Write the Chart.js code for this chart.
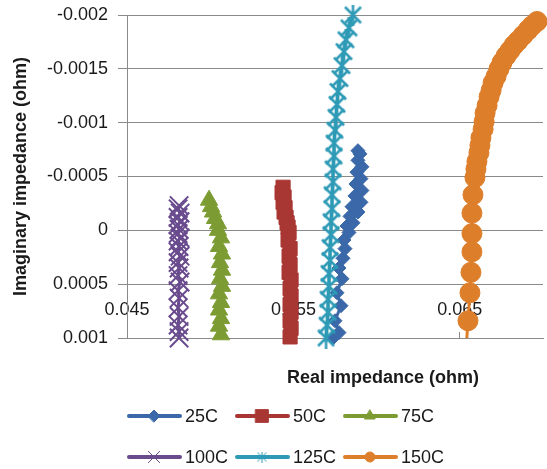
<!DOCTYPE html>
<html>
<head>
<meta charset="utf-8">
<script src="https://cdn.jsdelivr.net/npm/chart.js@4.4.1/dist/chart.umd.min.js"></script>
<style>
    html, body { margin: 0; padding: 0; background: #fff; }
</style>
</head>
<body>
<canvas id="nyquistChart" width="547" height="469"></canvas>
<script>
// Nyquist plot: real vs imaginary impedance at six temperatures

const seriesNames = ['25C', '50C', '75C', '100C', '125C', '150C'];
const xTicks = [0.045, 0.055, 0.065];
const yTicks = [-0.002, -0.0015, -0.001, -0.0005, 0, 0.0005, 0.001];

const re25 = [0.05738, 0.05774, 0.05750, 0.05786, 0.05762, 0.05792, 0.05774, 0.05798, 0.05810, 0.05804, 0.05834, 0.05822, 0.05858,
    0.05840, 0.05888, 0.05852, 0.05906, 0.05870, 0.05912, 0.05876, 0.05906, 0.05882, 0.05912, 0.05888, 0.05900, 0.05888];
const im25 = [0.00100, 0.00095, 0.00084, 0.00070, 0.00058, 0.00045, 0.00035, 0.00026, 0.00017, 0.00009, 0.00002, -0.00004, -0.00007,
    -0.00013, -0.00017, -0.00022, -0.00026, -0.00032, -0.00037, -0.00043, -0.00048, -0.00054, -0.00059, -0.00065, -0.00071, -0.00074];

const re50 = [0.05438, 0.05432, 0.05444, 0.05438, 0.05450, 0.05444, 0.05456, 0.05462, 0.05468, 0.05474, 0.05468, 0.05480,
    0.05474, 0.05480, 0.05474, 0.05486, 0.05480, 0.05486, 0.05480, 0.05486, 0.05480, 0.05486, 0.05480];
const im50 = [-0.00040, -0.00035, -0.00031, -0.00026, -0.00021, -0.00017, -0.00012, -0.00007, -0.00003, 0.00002, 0.00009, 0.00017,
    0.00024, 0.00032, 0.00039, 0.00046, 0.00054, 0.00061, 0.00069, 0.00076, 0.00084, 0.00091, 0.00099];

const re75 = [0.04993, 0.05005, 0.05017, 0.05029, 0.05047, 0.05047, 0.05065, 0.05053, 0.05071, 0.05059, 0.05071, 0.05059,
    0.05071, 0.05053, 0.05065, 0.05053, 0.05065, 0.05053, 0.05065];
const im75 = [-0.00028, -0.00022, -0.00017, -0.00011, -0.00006, 0.00000, 0.00007, 0.00015, 0.00022, 0.00030, 0.00037, 0.00045,
    0.00052, 0.00059, 0.00067, 0.00074, 0.00082, 0.00089, 0.00097];

const re100 = [0.04813, 0.04807, 0.04819, 0.04807, 0.04819, 0.04807, 0.04813, 0.04807, 0.04819, 0.04807, 0.04813, 0.04807,
    0.04819, 0.04807, 0.04813, 0.04807, 0.04819, 0.04807, 0.04813, 0.04807, 0.04813, 0.04807, 0.04813, 0.04813];
const im100 = [-0.00023, -0.00020, -0.00016, -0.00012, -0.00008, -0.00005, -0.00001, 0.00003, 0.00007, 0.00010, 0.00015, 0.00020,
    0.00024, 0.00030, 0.00035, 0.00042, 0.00048, 0.00056, 0.00063, 0.00072, 0.00080, 0.00088, 0.00094, 0.00100];

const re125 = [0.05696, 0.05702, 0.05708, 0.05708, 0.05714, 0.05714, 0.05720, 0.05720, 0.05726, 0.05726, 0.05732, 0.05732, 0.05738,
    0.05738, 0.05744, 0.05744, 0.05750, 0.05756, 0.05762, 0.05768, 0.05780, 0.05792, 0.05804, 0.05816, 0.05834, 0.05858];
const im125 = [0.00100, 0.00088, 0.00076, 0.00064, 0.00052, 0.00040, 0.00028, 0.00016, 0.00004, -0.00008, -0.00020, -0.00033, -0.00045,
    -0.00057, -0.00069, -0.00081, -0.00093, -0.00105, -0.00117, -0.00129, -0.00141, -0.00153, -0.00166, -0.00177, -0.00188, -0.00200];

const re150 = [0.06537, 0.06549, 0.06561, 0.06567, 0.06573, 0.06573, 0.06573, 0.06579, 0.06591, 0.06597, 0.06603, 0.06615, 0.06621,
    0.06627, 0.06640, 0.06646, 0.06652, 0.06664, 0.06676, 0.06688, 0.06700, 0.06718, 0.06736, 0.06754, 0.06778, 0.06802, 0.06826,
    0.06850, 0.06880, 0.06910, 0.06934, 0.06964];
const im150 = [0.00113, 0.00084, 0.00058, 0.00039, 0.00020, 0.00003, -0.00016, -0.00033, -0.00049, -0.00057, -0.00064, -0.00072, -0.00079,
    -0.00086, -0.00094, -0.00101, -0.00109, -0.00116, -0.00124, -0.00130, -0.00137, -0.00143, -0.00150, -0.00156, -0.00162, -0.00167,
    -0.00172, -0.00176, -0.00181, -0.00186, -0.00190, -0.00194];

const seriesRe = [re25, re50, re75, re100, re125, re150];
const seriesIm = [im25, im50, im75, im100, im125, im150];
const seriesColors = ['#3A68A8', '#A83733', '#7C9C33', '#6A4C8E', '#2E9AB6', '#DD7E2B'];

const FONT = '"Liberation Sans", Arial, sans-serif';
const TEXT = '#1a1a1a';
const GRID = '#8a8a8a';

// asterisk marker (x plus vertical bar), like the spreadsheet's star marker
function makeStar(size, color, width) {
    const c = document.createElement('canvas');
    c.width = size; c.height = size;
    const g = c.getContext('2d');
    const p = width;
    g.strokeStyle = color;
    g.lineWidth = width;
    g.beginPath();
    g.moveTo(p, p); g.lineTo(size - p, size - p);
    g.moveTo(size - p, p); g.lineTo(p, size - p);
    g.moveTo(size / 2, 0); g.lineTo(size / 2, size);
    g.stroke();
    return c;
}

const chartMarkers = [
    { style: 'rectRot', radius: 7, width: 1 },
    { style: 'rect', radius: 10, width: 1 },
    { style: 'triangle', radius: 10, width: 1 },
    { style: 'crossRot', radius: 13, width: 2 },
    { style: makeStar(21, seriesColors[4], 2.5), radius: 10, width: 1 },
    { style: 'circle', radius: 10, width: 1 }
];
const legendMarkers = [
    { style: 'rectRot', radius: 6, width: 1 },
    { style: 'rect', radius: 9, width: 1 },
    { style: 'triangle', radius: 6, width: 1 },
    { style: 'crossRot', radius: 8, width: 1 },
    { style: makeStar(11, seriesColors[4], 1), radius: 5, width: 1 },
    { style: 'circle', radius: 5, width: 1 }
];

// x-axis title sits off-centre and the legend is a fixed 3-column grid, so draw them here
const titleAndLegend = {
    id: 'titleAndLegend',
    afterDraw(chart) {
        const { ctx, chartArea } = chart;
        ctx.save();
        ctx.fillStyle = TEXT;
        ctx.textBaseline = 'middle';
        ctx.textAlign = 'center';
        ctx.font = 'bold 18px ' + FONT;
        ctx.fillText('Real impedance (ohm)', chartArea.left + 256, chartArea.bottom + 40);

        ctx.font = '18px ' + FONT;
        ctx.textAlign = 'left';
        chart.data.datasets.forEach((ds, i) => {
            const x0 = chartArea.left + (i % 3) * 108;
            const yc = chartArea.bottom + 78 + Math.floor(i / 3) * 41;
            const m = legendMarkers[i];
            ctx.strokeStyle = ds.borderColor;
            ctx.fillStyle = ds.borderColor;
            ctx.lineWidth = 4;
            ctx.lineCap = 'round';
            ctx.beginPath();
            ctx.moveTo(x0 + 2, yc);
            ctx.lineTo(x0 + 53, yc);
            ctx.stroke();
            ctx.lineWidth = m.width;
            Chart.helpers.drawPoint(ctx, { pointStyle: m.style, radius: m.radius, borderWidth: m.width, rotation: 0 }, x0 + 27, yc);
            ctx.fillStyle = TEXT;
            ctx.fillText(ds.label, x0 + 58, yc + 1);
        });
        ctx.restore();
    }
};

const datasets = seriesNames.map((name, i) => ({
    label: name,
    data: seriesRe[i].map((x, j) => ({ x: x, y: seriesIm[i][j] })),
    showLine: true,
    borderColor: seriesColors[i],
    backgroundColor: seriesColors[i],
    borderWidth: 3,
    pointStyle: chartMarkers[i].style,
    pointRadius: chartMarkers[i].radius,
    pointBorderWidth: chartMarkers[i].width,
    pointBackgroundColor: seriesColors[i],
    pointBorderColor: seriesColors[i],
    order: seriesNames.length - i,
    clip: i === 5 ? { left: false, top: false, right: false, bottom: 0 } : false
}));

new Chart(document.getElementById('nyquistChart').getContext('2d'), {
    type: 'scatter',
    data: { datasets: datasets },
    plugins: [titleAndLegend],
    options: {
        responsive: false,
        animation: false,
        layout: { autoPadding: false, padding: { left: 0, top: 15, right: 4, bottom: 120 } },
        plugins: {
            legend: { display: false },
            tooltip: { enabled: false }
        },
        scales: {
            x: {
                type: 'linear',
                position: 'bottom',
                min: 0.045,
                max: 0.07,
                z: 1,
                afterBuildTicks: function(scale) {
                    scale.ticks = xTicks.map(v => ({ value: v }));
                },
                afterFit: function(scale) {
                    // labels are drawn inside the plot, so the axis only needs its tick marks
                    scale.height = 11;
                    scale.paddingLeft = 0;
                    scale.paddingRight = 0;
                },
                ticks: {
                    mirror: true,
                    padding: 17,
                    maxRotation: 0,
                    color: TEXT,
                    font: { family: FONT, size: 18 },
                    callback: function(value) { return String(value); }
                },
                grid: { drawOnChartArea: false, tickLength: -6, color: GRID },
                border: { color: GRID }
            },
            y: {
                type: 'linear',
                reverse: true,
                min: -0.002,
                max: 0.001,
                afterBuildTicks: function(scale) {
                    scale.ticks = yTicks.map(v => ({ value: v }));
                },
                afterFit: function(scale) {
                    scale.width = 127;
                    scale.paddingTop = 0;
                    scale.paddingBottom = 0;
                },
                ticks: {
                    padding: 10,
                    color: TEXT,
                    font: { family: FONT, size: 18 },
                    callback: function(value) { return String(value); }
                },
                grid: { color: GRID, tickLength: 9 },
                border: { color: GRID },
                title: {
                    display: true,
                    text: 'Imaginary impedance (ohm)',
                    color: TEXT,
                    font: { family: FONT, size: 18, weight: 'bold' },
                    padding: { top: 10, bottom: 15 }
                }
            }
        }
    }
});
</script>
</body>
</html>
